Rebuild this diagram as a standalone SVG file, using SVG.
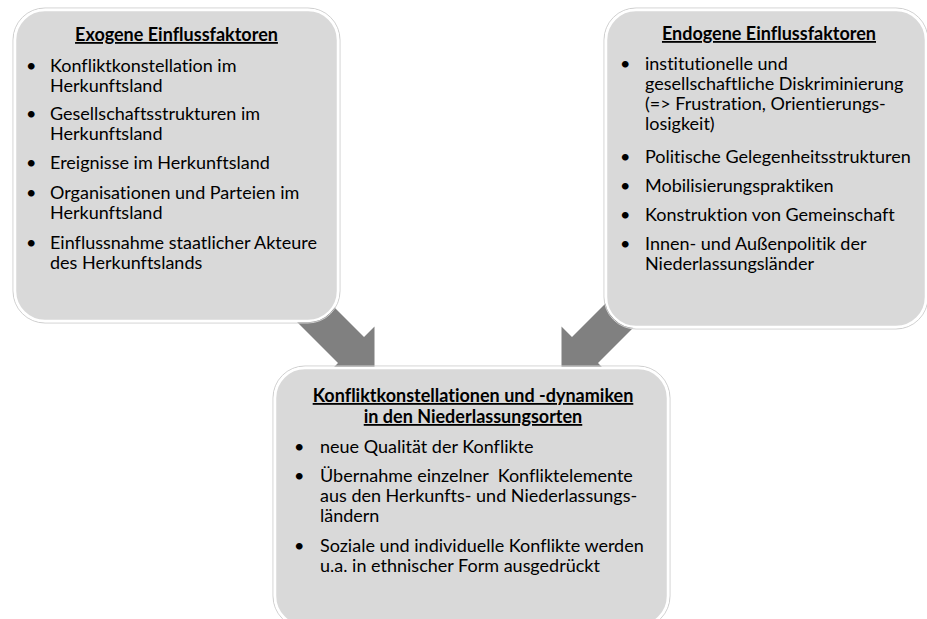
<svg xmlns="http://www.w3.org/2000/svg" width="927" height="619" viewBox="0 0 927 619">
<style>
.box{fill:#d9d9d9;stroke:#ffffff;stroke-width:2.5}
.shadow{fill:none;stroke:#cfcfcf;stroke-width:1}
.arrow{fill:#808080}
text{font-family:Lato,"Liberation Sans",sans-serif;font-size:18px;fill:#000;font-variant-ligatures:none}
.title{font-weight:bold;text-decoration:underline;text-anchor:middle}
</style>
<rect width="927" height="619" fill="#ffffff"/>
<g id="connectors">
<polygon class="arrow" points="293.5,266.5 364,337 374.5,326.5 374.5,373.5 327.5,373.5 338,363 267.5,292.5"/>
<polygon class="arrow" points="642.5,266.5 572,337 561.5,326.5 561.5,373.5 608.5,373.5 598,363 668.5,292.5"/>
</g>
<g id="node-exogen">
<rect class="shadow" x="13" y="8" width="327" height="315" rx="32"/>
<rect class="box" x="15" y="10" width="323" height="311" rx="30"/>
<text class="title" x="176.5" y="41">Exogene Einflussfaktoren</text>
<text x="26" y="72">•</text><text x="50" y="72">Konfliktkonstellation im</text>
<text x="50" y="92">Herkunftsland</text>
<text x="26" y="120">•</text><text x="50" y="120">Gesellschaftsstrukturen im</text>
<text x="50" y="140">Herkunftsland</text>
<text x="26" y="169">•</text><text x="50" y="169">Ereignisse im Herkunftsland</text>
<text x="26" y="199">•</text><text x="50" y="199">Organisationen und Parteien im</text>
<text x="50" y="219">Herkunftsland</text>
<text x="26" y="249">•</text><text x="50" y="249">Einflussnahme staatlicher Akteure</text>
<text x="50" y="269">des Herkunftslands</text>
</g>
<g id="node-endogen">
<rect class="shadow" x="604" y="8" width="324" height="321" rx="32"/>
<rect class="box" x="606" y="10" width="320" height="317" rx="30"/>
<text class="title" x="769" y="40">Endogene Einflussfaktoren</text>
<text x="620" y="70">•</text><text x="645" y="70">institutionelle und</text>
<text x="645" y="90">gesellschaftliche Diskriminierung</text>
<text x="645" y="110">(=&gt; Frustration, Orientierungs-</text>
<text x="645" y="130">losigkeit)</text>
<text x="620" y="163">•</text><text x="645" y="163">Politische Gelegenheitsstrukturen</text>
<text x="620" y="192">•</text><text x="645" y="192">Mobilisierungspraktiken</text>
<text x="620" y="221">•</text><text x="645" y="221">Konstruktion von Gemeinschaft</text>
<text x="620" y="250">•</text><text x="645" y="250">Innen- und Außenpolitik der</text>
<text x="645" y="270">Niederlassungsländer</text>
</g>
<g id="node-konflikt">
<rect class="shadow" x="273" y="366" width="397" height="262" rx="32"/>
<rect class="box" x="275" y="368" width="393" height="258" rx="30"/>
<text class="title" x="473" y="402">Konfliktkonstellationen und -dynamiken</text>
<text class="title" x="473" y="423">in den Niederlassungsorten</text>
<text x="294" y="453">•</text><text x="320" y="453">neue Qualität der Konflikte</text>
<text x="294" y="482">•</text><text x="320" y="482" xml:space="preserve">Übernahme einzelner  Konfliktelemente</text>
<text x="320" y="502">aus den Herkunfts- und Niederlassungs-</text>
<text x="320" y="522">ländern</text>
<text x="294" y="552">•</text><text x="320" y="552">Soziale und individuelle Konflikte werden</text>
<text x="320" y="572">u.a. in ethnischer Form ausgedrückt</text>
</g>
</svg>
